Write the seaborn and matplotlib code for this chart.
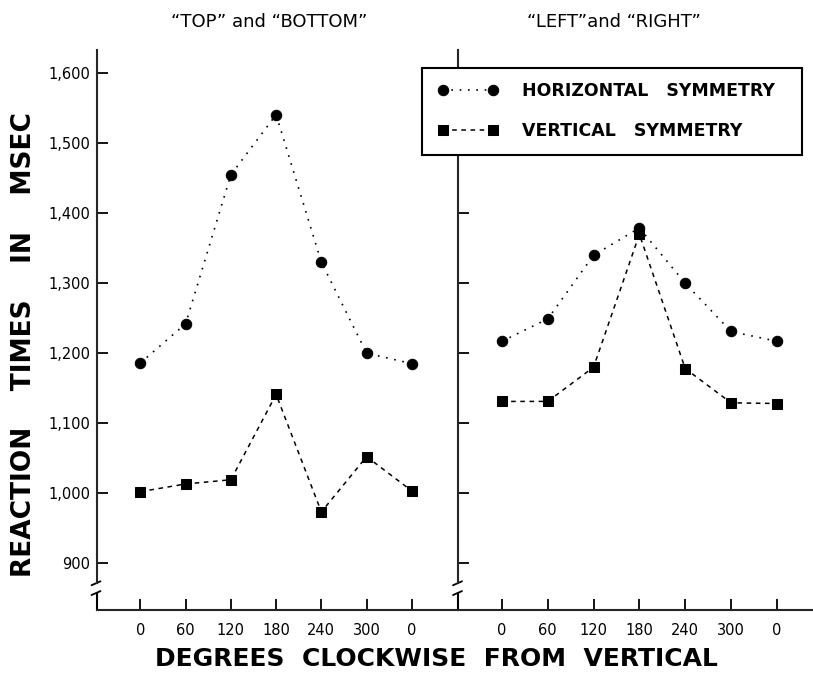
import numpy as np
import matplotlib
matplotlib.use("Agg")
import matplotlib.pyplot as plt
import seaborn as sns
from matplotlib.lines import Line2D
from matplotlib.legend_handler import HandlerLine2D
from matplotlib.ticker import FuncFormatter

# =========================================================================
# 1. Data
# =========================================================================
degree_labels = ["0", "60", "120", "180", "240", "300", "0"]

# "TOP" and "BOTTOM" panel
tb_horizontal = [1186, 1242, 1455, 1541, 1330, 1200, 1185]
tb_vertical = [1002, 1013, 1019, 1141, 973, 1052, 1003]

# "LEFT" and "RIGHT" panel
lr_horizontal = [1217, 1249, 1340, 1379, 1300, 1231, 1217]
lr_vertical = [1131, 1131, 1180, 1370, 1178, 1129, 1128]

y_ticks = [900, 1000, 1100, 1200, 1300, 1400, 1500, 1600]
series_names = ["HORIZONTAL   SYMMETRY", "VERTICAL   SYMMETRY"]
panel_titles = ["\u201cTOP\u201d and \u201cBOTTOM\u201d", "\u201cLEFT\u201dand \u201cRIGHT\u201d"]

# =========================================================================
# 2. Style
# =========================================================================
sns.set_style("ticks")
plt.rcParams.update({
    "font.family": ["DejaVu Sans"],
    "axes.linewidth": 1.5,
    "text.color": "black",
    "axes.labelcolor": "black",
    "xtick.color": "black",
    "ytick.color": "black",
})

W, H = 813, 681
Y_LIM = (832.8, 1633.4)
BREAK_LO, BREAK_HI = 857, 871

fig = plt.figure(figsize=(W / 100, H / 100), dpi=100)
fig.patch.set_facecolor("white")

bottom = 1 - 610 / H
height = (610 - 50) / H
ax_l = fig.add_axes([96.5 / W, bottom, (458 - 96.5) / W, height])
ax_r = fig.add_axes([458 / W, bottom, (W - 458) / W, height])

x_pos = np.arange(len(degree_labels))


def draw_panel(ax, horiz, vert, xlim, show_labels):
    sns.lineplot(x=x_pos, y=horiz, ax=ax, color="black", marker="o",
                 markersize=7.5, markeredgecolor="black", linewidth=1.2,
                 linestyle=(0, (1, 4)), label=series_names[0], legend=False)
    sns.lineplot(x=x_pos, y=vert, ax=ax, color="black", marker="s",
                 markersize=6.8, markeredgecolor="black", linewidth=1.1,
                 linestyle=(0, (3, 3)), label=series_names[1], legend=False)

    ax.set_xlim(*xlim)
    ax.set_ylim(*Y_LIM)
    ax.set_xticks(x_pos)
    ax.set_xticklabels(degree_labels)
    ax.set_yticks(y_ticks)
    ax.yaxis.set_major_formatter(FuncFormatter(lambda v, p: f"{int(v):,}"))
    ax.tick_params(direction="in", length=8, width=1.3, labelsize=10.5,
                   colors="black")
    ax.tick_params(axis="x", pad=9.5)
    ax.tick_params(axis="y", pad=4.3, labelleft=show_labels)
    ax.set_xlabel("")
    ax.set_ylabel("")

    for side in ["top", "right"]:
        ax.spines[side].set_visible(False)

    # broken y axis: upper part of the spine + short stub at the bottom
    ax.spines["left"].set_bounds(BREAK_HI, Y_LIM[1])
    trans = ax.get_yaxis_transform()
    ax.plot([0, 0], [Y_LIM[0], BREAK_LO], color="black", lw=1.5,
            transform=trans, clip_on=False)

    # little slashes at the break
    ax_w = ax.get_position().width * W
    ax_h = ax.get_position().height * H
    dv = (Y_LIM[1] - Y_LIM[0]) / ax_h
    for v in [BREAK_LO, BREAK_HI]:
        ax.plot([-5 / ax_w, 4 / ax_w], [v - 2 * dv, v + 2 * dv],
                color="black", lw=1.3, transform=trans, clip_on=False)


draw_panel(ax_l, tb_horizontal, tb_vertical, (-0.97, 7.02), True)
draw_panel(ax_r, lr_horizontal, lr_vertical, (-0.96, 6.79), False)

# =========================================================================
# 3. Legend, titles and axis labels
# =========================================================================
handles = ax_l.get_lines()[:2]
leg = fig.legend(handles, series_names, loc="upper left",
                 bbox_to_anchor=(422 / W, 1 - 153 / H, 380 / W, 85 / H),
                 mode="expand", borderaxespad=0, numpoints=2,
                 handlelength=3.65, handletextpad=1.3, borderpad=0.83,
                 labelspacing=1.25, fancybox=False,
                 prop={"size": 12.5, "weight": "bold"},
                 framealpha=1, edgecolor="black",
                 handler_map={Line2D: HandlerLine2D(marker_pad=0.38)})
leg.get_frame().set_linewidth(1.5)

fig.text(269 / W, 1 - 22 / H, panel_titles[0], fontsize=13,
         ha="center", va="center")
fig.text(614 / W, 1 - 22 / H, panel_titles[1], fontsize=13,
         ha="center", va="center")

fig.text(24 / W, 1 - 345 / H, "REACTION    TIMES    IN    MSEC", rotation=90,
         fontsize=19, fontweight="bold", ha="center", va="center")
fig.text(436 / W, 1 - 659 / H, "DEGREES  CLOCKWISE  FROM  VERTICAL",
         fontsize=18, fontweight="bold", ha="center", va="center")

fig.savefig("out.png", dpi=100, facecolor="white")
